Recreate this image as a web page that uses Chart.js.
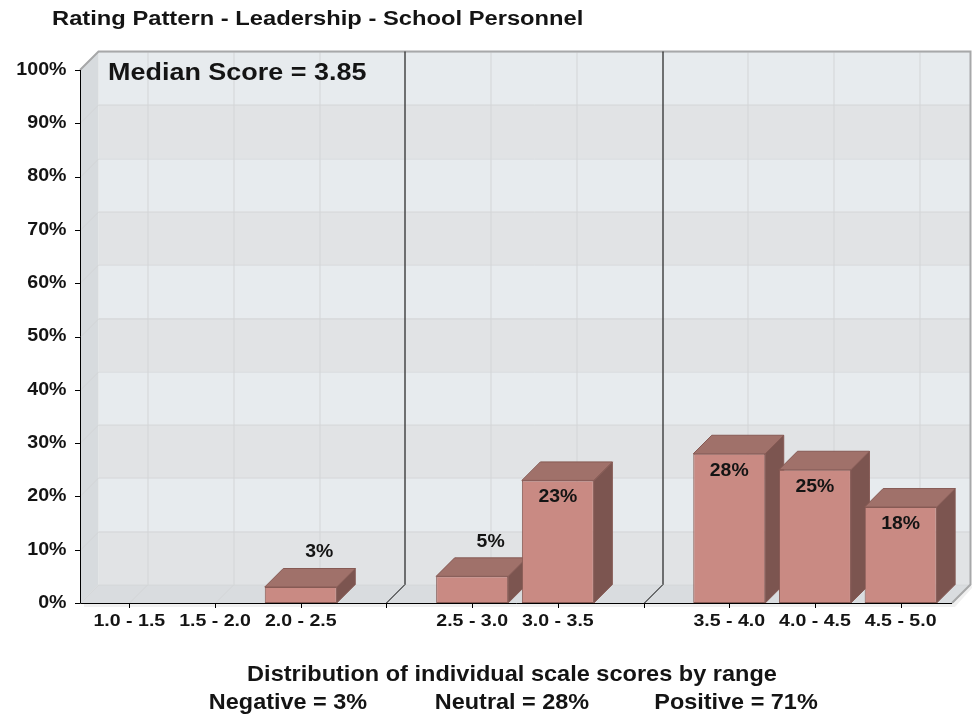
<!DOCTYPE html>
<html>
<head>
<meta charset="utf-8">
<script src="https://cdn.jsdelivr.net/npm/chart.js@4.4.0/dist/chart.umd.min.js"></script>
<style>
  body { margin: 0; background: #fff; }
  #wrap { width: 972px; height: 714px; }
</style>
</head>
<body>
<div id="wrap"><canvas id="rating-chart" width="972" height="714"></canvas></div>
<script>
  // Data
  const chartTitle = 'Rating Pattern - Leadership - School Personnel';
  const medianText = 'Median Score = 3.85';
  const ranges = ['1.0 - 1.5', '1.5 - 2.0', '2.0 - 2.5', '', '2.5 - 3.0', '3.0 - 3.5', '', '3.5 - 4.0', '4.0 - 4.5', '4.5 - 5.0'];
  const percents = [0, 0, 3, null, 5, 23, null, 28, 25, 18];
  const yTicks = [0, 10, 20, 30, 40, 50, 60, 70, 80, 90, 100];
  const axisTitle = 'Distribution of individual scale scores by range';
  const groupNames = ['Negative', 'Neutral', 'Positive'];
  const groupTotals = [3, 28, 71];

  const FONT = "'Liberation Sans', Arial, Helvetica, sans-serif";
  const INK = '#141414';
  const DEPTH = 18.5;

  const FRONT = '#c98a83';
  const TOP = '#a0716a';
  const SIDE = '#7c5550';
  const EDGE = '#865a54';

  // text is drawn a little wider than the stock font
  function wideText(ctx, text, x, y, size, sx, align) {
    ctx.save();
    ctx.font = 'bold ' + size + 'px ' + FONT;
    ctx.textAlign = align;
    ctx.translate(x, y);
    ctx.scale(sx, 1);
    ctx.fillText(text, 0, 0);
    ctx.restore();
  }

  // walls, floor, separators and the 3D faces of the bars
  const box3d = {
    id: 'box3d',
    beforeDraw(chart) {
      const { ctx, chartArea: a, scales: { x, y } } = chart;
      const d = DEPTH;
      const L = a.left - 6.5, R = a.right + 8.5, T = a.top, B = a.bottom;
      ctx.save();
      // back wall bands
      for (let k = 0; k < 10; k++) {
        const yt = y.getPixelForValue(yTicks[k + 1]) - d;
        const yb = y.getPixelForValue(yTicks[k]) - d;
        ctx.fillStyle = k % 2 ? '#e7ebee' : '#e1e3e5';
        ctx.fillRect(L + d, yt, R - L, yb - yt);
      }
      // left side wall
      ctx.fillStyle = '#d7dbde';
      ctx.beginPath();
      ctx.moveTo(L, B); ctx.lineTo(L, T); ctx.lineTo(L + d, T - d); ctx.lineTo(L + d, B - d);
      ctx.closePath(); ctx.fill();
      // floor
      ctx.fillStyle = '#d9dcdf';
      ctx.beginPath();
      ctx.moveTo(L, B); ctx.lineTo(R, B); ctx.lineTo(R + d, B - d); ctx.lineTo(L + d, B - d);
      ctx.closePath(); ctx.fill();
      // soft shadow under the floor
      ctx.fillStyle = 'rgba(0,0,0,0.06)';
      ctx.beginPath();
      ctx.moveTo(L + 4, B); ctx.lineTo(R, B); ctx.lineTo(R + d, B - d); ctx.lineTo(R + d + 2, B - d + 3); ctx.lineTo(R + 3, B + 4); ctx.lineTo(L + 4, B + 4);
      ctx.closePath(); ctx.fill();

      // grid lines
      ctx.strokeStyle = '#d3d5d7';
      ctx.lineWidth = 1;
      ctx.beginPath();
      yTicks.forEach(v => {
        const py = Math.round(y.getPixelForValue(v)) + 0.5;
        ctx.moveTo(L, py); ctx.lineTo(L + d, py - d);
        ctx.lineTo(R + d, py - d);
      });
      ranges.forEach((r, i) => {
        const px = Math.round(x.getPixelForValue(i)) + 0.5;
        ctx.moveTo(px, B); ctx.lineTo(px + d, B - d); ctx.lineTo(px + d, T - d);
      });
      ctx.stroke();

      // back wall outline (top and right)
      ctx.strokeStyle = '#a7a8a9';
      ctx.lineWidth = 2;
      ctx.beginPath();
      ctx.moveTo(L, T); ctx.lineTo(L + d, T - d); ctx.lineTo(R + d, T - d); ctx.lineTo(R + d, B - d);
      ctx.lineTo(R, B);
      ctx.stroke();

      // separators between the negative / neutral / positive groups
      ctx.strokeStyle = '#000';
      ctx.lineWidth = 1;
      ctx.beginPath();
      ranges.forEach((r, i) => {
        if (r !== '') return;
        const px = Math.round(x.getPixelForValue(i)) + 0.5;
        ctx.moveTo(px + d, T - d); ctx.lineTo(px + d, B - d); ctx.lineTo(px, B);
      });
      ctx.stroke();
      ctx.restore();
    },
    beforeDatasetsDraw(chart) {
      const { ctx } = chart;
      const d = DEPTH;
      const meta = chart.getDatasetMeta(0);
      ctx.save();
      ctx.lineWidth = 1;
      ctx.strokeStyle = EDGE;
      meta.data.forEach((bar, i) => {
        if (!percents[i]) return;
        const x1 = bar.x - bar.width / 2, x2 = bar.x + bar.width / 2;
        const yt = bar.y, yb = bar.base;
        // side
        ctx.fillStyle = SIDE;
        ctx.beginPath();
        ctx.moveTo(x2, yt); ctx.lineTo(x2 + d, yt - d); ctx.lineTo(x2 + d, yb - d); ctx.lineTo(x2, yb);
        ctx.closePath(); ctx.fill(); ctx.stroke();
        // top
        ctx.fillStyle = TOP;
        ctx.beginPath();
        ctx.moveTo(x1, yt); ctx.lineTo(x2, yt); ctx.lineTo(x2 + d, yt - d); ctx.lineTo(x1 + d, yt - d);
        ctx.closePath(); ctx.fill(); ctx.stroke();
      });
      ctx.restore();
    },
    afterDatasetsDraw(chart) {
      const { ctx, chartArea: a, scales: { x, y } } = chart;
      const d = DEPTH;
      const L = a.left - 6.5, R = a.right + 8.5, T = a.top, B = a.bottom;
      ctx.save();
      // axes and tick marks
      ctx.strokeStyle = '#000';
      ctx.lineWidth = 1;
      ctx.beginPath();
      ctx.moveTo(L + 0.5, T); ctx.lineTo(L + 0.5, B + 0.5); ctx.lineTo(R, B + 0.5);
      yTicks.forEach(v => {
        const py = Math.round(y.getPixelForValue(v)) + 0.5;
        ctx.moveTo(L - 5, py); ctx.lineTo(L, py);
      });
      ranges.forEach((r, i) => {
        const px = Math.round(x.getPixelForValue(i)) + 0.5;
        ctx.moveTo(px, B); ctx.lineTo(px, B + 5);
      });
      ctx.stroke();

      ctx.fillStyle = INK;
      ctx.textBaseline = 'middle';
      // tick labels
      y.ticks.forEach(t => {
        wideText(ctx, t.value + '%', L - 13.5, y.getPixelForValue(t.value), 17.5, 1.12, 'right');
      });
      ranges.forEach((r, i) => {
        if (r) wideText(ctx, r, x.getPixelForValue(i), B + 18.5, 17, 1.15, 'center');
      });
      // value labels
      chart.getDatasetMeta(0).data.forEach((bar, i) => {
        const v = percents[i];
        if (!v) return;
        const text = v + '%';
        if (v < 10) wideText(ctx, text, bar.x + d, bar.y - d - 16, 17.5, 1.11, 'center');
        else wideText(ctx, text, bar.x, bar.y + 17, 17.5, 1.11, 'center');
      });
      ctx.restore();
    },
    afterDraw(chart) {
      const { ctx, chartArea: a } = chart;
      ctx.save();
      ctx.fillStyle = INK;
      ctx.textBaseline = 'alphabetic';
      wideText(ctx, chartTitle, 52, 25, 20.3, 1.17, 'left');
      wideText(ctx, medianText, 108, 79.5, 24.5, 1.1, 'left');

      const cx = (a.left + a.right) / 2 - 3;
      wideText(ctx, axisTitle, cx, 681, 21.5, 1.095, 'center');
      groupNames.forEach((g, i) => {
        wideText(ctx, g + ' = ' + groupTotals[i] + '%', cx + (i - 1) * 224, 709, 21.5, 1.09, 'center');
      });
      ctx.restore();
    }
  };

  const ctx = document.getElementById('rating-chart').getContext('2d');
  const ratingChart = new Chart(ctx, {
    type: 'bar',
    data: {
      labels: ranges,
      datasets: [{
        data: percents,
        backgroundColor: FRONT,
        borderColor: EDGE,
        borderWidth: c => (c.raw ? 1 : 0),
        borderSkipped: false,
        categoryPercentage: 1,
        barPercentage: 0.84
      }]
    },
    options: {
      responsive: false,
      animation: false,
      layout: { padding: { top: 70, right: 28.5, left: 0, bottom: 0 } },
      plugins: { legend: { display: false }, tooltip: { enabled: false }, title: { display: false } },
      scales: {
        x: {
          grid: { display: false, drawTicks: false },
          border: { display: false },
          ticks: { display: false, autoSkip: false },
          afterFit: s => { s.height = 111; }
        },
        y: {
          min: 0,
          max: 100,
          grid: { display: false, drawTicks: false },
          border: { display: false },
          afterBuildTicks: s => { s.ticks = yTicks.map(v => ({ value: v })); },
          ticks: { display: false },
          afterFit: s => { s.width = 86.5; }
        }
      }
    },
    plugins: [box3d]
  });
</script>
</body>
</html>
